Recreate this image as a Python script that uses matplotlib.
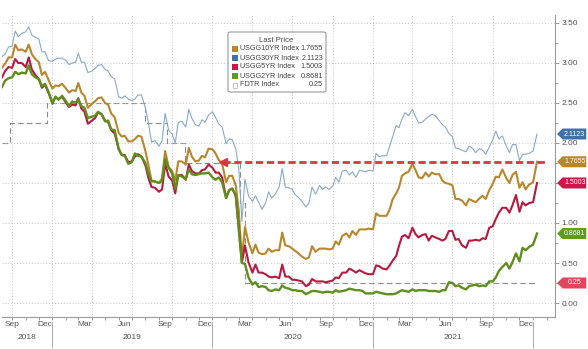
import pandas as pd
import numpy as np
import matplotlib
matplotlib.use('Agg')
import matplotlib.pyplot as plt
import matplotlib.patches as mpatches
import matplotlib.transforms as mtransforms

# ==== Data (weekly-ish samples) ====
def sample_dates():
    out = [pd.Timestamp(2018, 9, d) for d in (8, 15, 23)]
    for m in pd.period_range('2018-10', '2021-12', freq='M'):
        out += [pd.Timestamp(m.year, m.month, d) for d in (1, 8, 15, 23)]
    out += [pd.Timestamp(2022, 1, 1), pd.Timestamp(2022, 1, 10)]
    return out

dates = sample_dates()

usgg10 = [
    2.94, 2.99, 3.07, 3.07, 3.23, 3.16, 3.17, 3.14, 3.23, 3.11, 3.05, 3.01, 2.85, 2.89, 2.79,
    2.68, 2.72, 2.71, 2.74, 2.68, 2.63, 2.66, 2.65, 2.75, 2.63, 2.59, 2.44, 2.49, 2.52, 2.56, 2.57,
    2.50, 2.48, 2.37, 2.32, 2.13, 2.08, 2.09, 2.02, 2.02, 2.05, 2.09, 2.08, 1.90, 1.72, 1.53, 1.52,
    1.50, 1.56, 1.90, 1.70, 1.65, 1.53, 1.77, 1.77, 1.73, 1.94, 1.83, 1.77, 1.78, 1.84, 1.82, 1.93,
    1.92, 1.87, 1.79, 1.74, 1.51, 1.59, 1.59, 1.47, 1.15, 0.54, 0.95, 0.76, 0.62, 0.73, 0.63, 0.61,
    0.62, 0.68, 0.64, 0.66, 0.66, 0.88, 0.72, 0.71, 0.68, 0.65, 0.62, 0.58, 0.55, 0.57, 0.71, 0.64,
    0.68, 0.68, 0.68, 0.67, 0.68, 0.77, 0.73, 0.84, 0.87, 0.82, 0.90, 0.85, 0.92, 0.92, 0.92, 0.93,
    0.92, 1.12, 1.09, 1.09, 1.09, 1.17, 1.30, 1.37, 1.44, 1.59, 1.62, 1.64, 1.74, 1.66, 1.57, 1.56,
    1.63, 1.58, 1.63, 1.61, 1.61, 1.53, 1.50, 1.49, 1.47, 1.30, 1.30, 1.28, 1.22, 1.30, 1.28, 1.26,
    1.31, 1.34, 1.30, 1.41, 1.49, 1.58, 1.57, 1.67, 1.56, 1.50, 1.60, 1.64, 1.44, 1.51, 1.42, 1.48,
    1.51, 1.7655,
]
usgg30 = [
    3.08, 3.11, 3.20, 3.21, 3.40, 3.33, 3.37, 3.39, 3.45, 3.35, 3.32, 3.30, 3.14, 3.14, 3.03,
    3.02, 3.05, 3.06, 3.06, 3.03, 2.98, 3.00, 3.01, 3.12, 3.01, 3.01, 2.88, 2.90, 2.93, 2.97, 2.98,
    2.92, 2.90, 2.83, 2.80, 2.58, 2.56, 2.59, 2.55, 2.53, 2.55, 2.60, 2.60, 2.44, 2.25, 2.01, 2.03,
    1.96, 2.03, 2.37, 2.16, 2.11, 2.00, 2.26, 2.27, 2.20, 2.42, 2.31, 2.23, 2.21, 2.29, 2.26, 2.35,
    2.39, 2.32, 2.24, 2.20, 1.99, 2.05, 2.04, 1.93, 1.67, 1.02, 1.55, 1.34, 1.27, 1.34, 1.26, 1.17,
    1.25, 1.39, 1.31, 1.36, 1.45, 1.68, 1.45, 1.44, 1.42, 1.35, 1.32, 1.27, 1.20, 1.25, 1.45, 1.36,
    1.47, 1.42, 1.45, 1.42, 1.46, 1.57, 1.51, 1.65, 1.66, 1.60, 1.64, 1.57, 1.66, 1.65, 1.64, 1.66,
    1.65, 1.87, 1.83, 1.84, 1.84, 1.96, 2.08, 2.22, 2.19, 2.30, 2.38, 2.34, 2.42, 2.33, 2.25, 2.26,
    2.30, 2.33, 2.36, 2.34, 2.28, 2.23, 2.20, 2.12, 2.08, 1.94, 1.93, 1.91, 1.89, 1.96, 1.94, 1.88,
    1.93, 1.91, 1.86, 1.95, 2.04, 2.15, 2.05, 2.09, 1.96, 1.88, 1.98, 1.98, 1.78, 1.86, 1.86, 1.87,
    1.90, 2.1123,
]
usgg5 = [
    2.82, 2.90, 2.95, 2.94, 3.05, 3.00, 3.00, 2.95, 3.07, 2.92, 2.85, 2.80, 2.69, 2.73, 2.63,
    2.51, 2.57, 2.55, 2.58, 2.50, 2.45, 2.48, 2.47, 2.56, 2.43, 2.39, 2.24, 2.28, 2.31, 2.38, 2.36,
    2.28, 2.26, 2.16, 2.12, 1.92, 1.85, 1.85, 1.76, 1.77, 1.83, 1.86, 1.83, 1.72, 1.56, 1.45, 1.44,
    1.39, 1.42, 1.74, 1.58, 1.53, 1.37, 1.60, 1.60, 1.54, 1.73, 1.65, 1.62, 1.62, 1.66, 1.67, 1.73,
    1.69, 1.63, 1.63, 1.57, 1.32, 1.41, 1.43, 1.34, 0.94, 0.50, 0.72, 0.51, 0.38, 0.48, 0.38, 0.38,
    0.36, 0.33, 0.32, 0.33, 0.31, 0.48, 0.33, 0.33, 0.29, 0.29, 0.28, 0.27, 0.21, 0.23, 0.30, 0.27,
    0.27, 0.27, 0.26, 0.27, 0.28, 0.32, 0.31, 0.38, 0.38, 0.43, 0.41, 0.38, 0.41, 0.39, 0.37, 0.36,
    0.36, 0.47, 0.46, 0.43, 0.42, 0.47, 0.53, 0.59, 0.71, 0.83, 0.85, 0.81, 0.94, 0.86, 0.82, 0.85,
    0.86, 0.78, 0.84, 0.82, 0.80, 0.78, 0.80, 0.90, 0.90, 0.79, 0.80, 0.72, 0.69, 0.78, 0.78, 0.79,
    0.78, 0.81, 0.80, 0.94, 0.96, 1.05, 1.13, 1.19, 1.19, 1.13, 1.22, 1.35, 1.14, 1.26, 1.22, 1.25,
    1.26, 1.5003,
]
usgg2 = [
    2.70, 2.78, 2.81, 2.82, 2.89, 2.86, 2.88, 2.87, 2.97, 2.86, 2.82, 2.80, 2.71, 2.74, 2.64,
    2.49, 2.58, 2.54, 2.59, 2.52, 2.46, 2.52, 2.50, 2.55, 2.46, 2.44, 2.31, 2.33, 2.34, 2.39, 2.36,
    2.27, 2.28, 2.17, 2.16, 1.93, 1.85, 1.84, 1.74, 1.76, 1.87, 1.84, 1.83, 1.75, 1.62, 1.52, 1.52,
    1.50, 1.53, 1.80, 1.69, 1.62, 1.43, 1.60, 1.58, 1.55, 1.67, 1.61, 1.60, 1.61, 1.62, 1.62, 1.63,
    1.57, 1.54, 1.57, 1.51, 1.31, 1.41, 1.43, 1.35, 0.91, 0.50, 0.49, 0.32, 0.23, 0.26, 0.20, 0.21,
    0.20, 0.16, 0.15, 0.17, 0.16, 0.22, 0.19, 0.18, 0.16, 0.16, 0.15, 0.15, 0.11, 0.13, 0.15, 0.15,
    0.14, 0.13, 0.14, 0.14, 0.13, 0.16, 0.14, 0.15, 0.16, 0.18, 0.17, 0.16, 0.16, 0.15, 0.12, 0.12,
    0.12, 0.14, 0.13, 0.12, 0.11, 0.11, 0.11, 0.12, 0.14, 0.16, 0.15, 0.14, 0.17, 0.15, 0.16, 0.16,
    0.16, 0.15, 0.15, 0.15, 0.14, 0.16, 0.16, 0.26, 0.25, 0.21, 0.22, 0.19, 0.17, 0.21, 0.22, 0.23,
    0.21, 0.22, 0.21, 0.27, 0.27, 0.32, 0.40, 0.45, 0.50, 0.43, 0.51, 0.62, 0.52, 0.69, 0.66, 0.70,
    0.73, 0.8681,
]

# Fed funds target (upper bound) step changes
fdtr_dates = ['2018-09-08', '2018-09-27', '2018-12-20', '2019-08-01', '2019-09-19',
              '2019-10-31', '2020-03-04', '2020-03-16', '2022-01-10']
fdtr_values = [2.00, 2.25, 2.50, 2.25, 2.00, 1.75, 1.25, 0.25, 0.25]

series_names = ['USGG10YR Index', 'USGG30YR Index', 'USGG5YR Index', 'USGG2YR Index', 'FDTR Index']
last_labels = ['1.7655', '2.1123', '1.5003', '0.8681', '0.25']

COLORS = {
    '10y': '#b8862b',
    '30y': '#86a9cc',
    '5y': '#b8193f',
    '2y': '#5e8f1c',
    'fdtr': '#8c8c8c',
    'arrow': '#e0323f',
    'grid': '#c4c4c4',
    'text': '#555555',
}
TAG_COLORS = {'30y': '#3f72aa', '10y': '#b8862b', '5y': '#c8194a', '2y': '#5f9c1e', 'fdtr': '#e8425c'}

plt.rcParams['font.family'] = 'Liberation Sans'

fig = plt.figure(figsize=(5.88, 3.49), dpi=100, facecolor='white')
ax = fig.add_axes([2 / 588, 1 - 317 / 349, 553 / 588, 302 / 349])
ax.set_facecolor('white')

x = pd.to_datetime(dates)

# ==== Grid ====
for yr in range(2018, 2022):
    for mo in (1, 4, 7, 10):
        d = pd.Timestamp(yr, mo, 1)
        if d > pd.Timestamp(2018, 9, 8):
            ax.axvline(d, color=COLORS['grid'], lw=0.7, ls=(0, (1, 2)), zorder=0)
ax.set_yticks(np.arange(0, 3.51, 0.5))
ax.set_yticks(np.arange(0, 3.6, 0.25), minor=True)
ax.yaxis.grid(True, which='major', color=COLORS['grid'], lw=0.7, ls=(0, (1, 2)), zorder=0)

# ==== Series ====
fd_x = pd.to_datetime(fdtr_dates)
ax.step(fd_x, fdtr_values, where='post', color=COLORS['fdtr'], lw=0.8, ls=(0, (5, 3)), zorder=1)
ax.plot(x, usgg30, color=COLORS['30y'], lw=0.8, zorder=2)
ax.plot(x, usgg10, color=COLORS['10y'], lw=1.5, zorder=3)
ax.plot(x, usgg5, color=COLORS['5y'], lw=1.5, zorder=4)
ax.plot(x, usgg2, color=COLORS['2y'], lw=1.7, zorder=5)

# red dashed arrow at the latest 10y level
arr_y = usgg10[-1]
arr_x = [pd.Timestamp(2020, 1, 26), pd.Timestamp(2022, 1, 31)]
ax.plot(arr_x, [arr_y, arr_y], color=COLORS['arrow'], lw=2.0, ls=(0, (2.6, 1.3)),
        solid_capstyle='butt', zorder=6)
ax.plot([arr_x[0]], [arr_y], marker='<', ms=6, color=COLORS['arrow'], mec=COLORS['arrow'], zorder=7)

# ==== Axes ====
ax.set_ylim(-0.175, 3.6)
ax.set_xlim(pd.Timestamp(2018, 9, 8), pd.Timestamp(2022, 2, 20))
for s in ('top', 'left'):
    ax.spines[s].set_visible(False)
for s in ('right', 'bottom'):
    ax.spines[s].set_color('#9a9a9a')
    ax.spines[s].set_linewidth(0.8)

ax.yaxis.tick_right()
# 1.50 sits under the 5y tag in the original, so it is left blank
ax.yaxis.set_major_formatter(plt.FuncFormatter(lambda v, p: '' if abs(v - 1.5) < 1e-6 else f"{v:.2f}"))
ax.tick_params(axis='y', which='major', length=3, width=0.6, colors='#8a8a8a',
               labelsize=6, labelcolor=COLORS['text'], pad=1.5)
ax.tick_params(axis='y', which='minor', length=1.8, width=0.5, colors='#8a8a8a')

# month ticks on x
month_starts = pd.date_range('2018-10-01', '2022-02-01', freq='MS')
ax.set_xticks(month_starts, minor=True)
ax.tick_params(axis='x', which='minor', length=2.5, width=0.6, colors='#8a8a8a')
label_dates, label_texts = [], []
for d in pd.date_range('2018-09-01', '2021-12-01', freq='MS'):
    if d.month in (3, 6, 9, 12):
        label_dates.append(d + pd.Timedelta(days=14))
        label_texts.append(d.strftime('%b'))
ax.set_xticks(label_dates)
ax.set_xticklabels(label_texts)
ax.tick_params(axis='x', which='major', length=0, labelsize=6, labelcolor=COLORS['text'], pad=3)
ax.get_xticklabels()[0].set_horizontalalignment('left')

# year row
xtrans = ax.get_xaxis_transform()
years = [(2018, pd.Timestamp(2018, 9, 8)), (2019, pd.Timestamp(2019, 1, 1)),
         (2020, pd.Timestamp(2020, 1, 1)), (2021, pd.Timestamp(2021, 1, 1))]
for yr, start in years:
    end = pd.Timestamp(yr + 1, 1, 1)
    mid = start + (end - start) / 2
    ax.text(mid, -0.068, str(yr), transform=xtrans, ha='center', va='center',
            fontsize=6, color=COLORS['text'], clip_on=False)
    ax.plot([end, end], [-0.018, -0.098], transform=xtrans, color='#9a9a9a', lw=0.6, clip_on=False)

# ==== Last value tags on the right ====
def add_tag(val, label, color):
    trans = mtransforms.Affine2D().scale(fig.dpi / 72.0) + \
        mtransforms.ScaledTranslation(1.0, val, ax.get_yaxis_transform())
    h = 5.5 * 0.72
    pts = [(1.5, 0), (5.5, h), (22.5, h), (22.5, -h), (5.5, -h)]
    tag = mpatches.Polygon(pts, closed=True, transform=trans, facecolor=color,
                           edgecolor='none', zorder=10, clip_on=False)
    ax.add_artist(tag)
    ax.annotate(label, xy=(1.0, val), xycoords=ax.get_yaxis_transform(),
                xytext=(14.2, 0), textcoords='offset points', ha='center', va='center',
                fontsize=5, color='white', annotation_clip=False, zorder=11)

add_tag(usgg30[-1], last_labels[1], TAG_COLORS['30y'])
add_tag(usgg10[-1], last_labels[0], TAG_COLORS['10y'])
add_tag(usgg5[-1], last_labels[2], TAG_COLORS['5y'])
add_tag(usgg2[-1], last_labels[3], TAG_COLORS['2y'])
add_tag(fdtr_values[-1], last_labels[4], TAG_COLORS['fdtr'])

# ==== Legend box ====
W, H = 588.0, 349.0
box = mpatches.FancyBboxPatch((228 / W, 1 - 92 / H), 98 / W, 60 / H,
                              boxstyle='round,pad=0,rounding_size=0.004',
                              transform=fig.transFigure, facecolor='white',
                              edgecolor='#8a8a8a', lw=0.7, zorder=20)
fig.add_artist(box)
fig.text(276 / W, 1 - 40 / H, 'Last Price', ha='center', va='center', fontsize=5.5,
         color='#444444', zorder=21)
leg_colors = [TAG_COLORS['10y'], TAG_COLORS['30y'], TAG_COLORS['5y'], TAG_COLORS['2y'], None]
for i, (name, val, col) in enumerate(zip(series_names, last_labels, leg_colors)):
    yy = 1 - (49 + 9 * i) / H
    if col is not None:
        fig.add_artist(mpatches.Rectangle((232 / W, yy - 3 / H), 6 / W, 6 / H,
                                          transform=fig.transFigure, facecolor=col,
                                          edgecolor='none', zorder=21))
    else:
        fig.add_artist(mpatches.Rectangle((233 / W, yy - 2.5 / H), 4 / W, 5 / H,
                                          transform=fig.transFigure, facecolor='white',
                                          edgecolor='#b0b0b0', lw=0.5, zorder=21))
    fig.text(240 / W, yy, name, ha='left', va='center', fontsize=5.2, color='#444444', zorder=21)
    fig.text(323 / W, yy, val, ha='right', va='center', fontsize=5.2, color='#444444', zorder=21)

fig.savefig('out.png', dpi=100, facecolor='white')
